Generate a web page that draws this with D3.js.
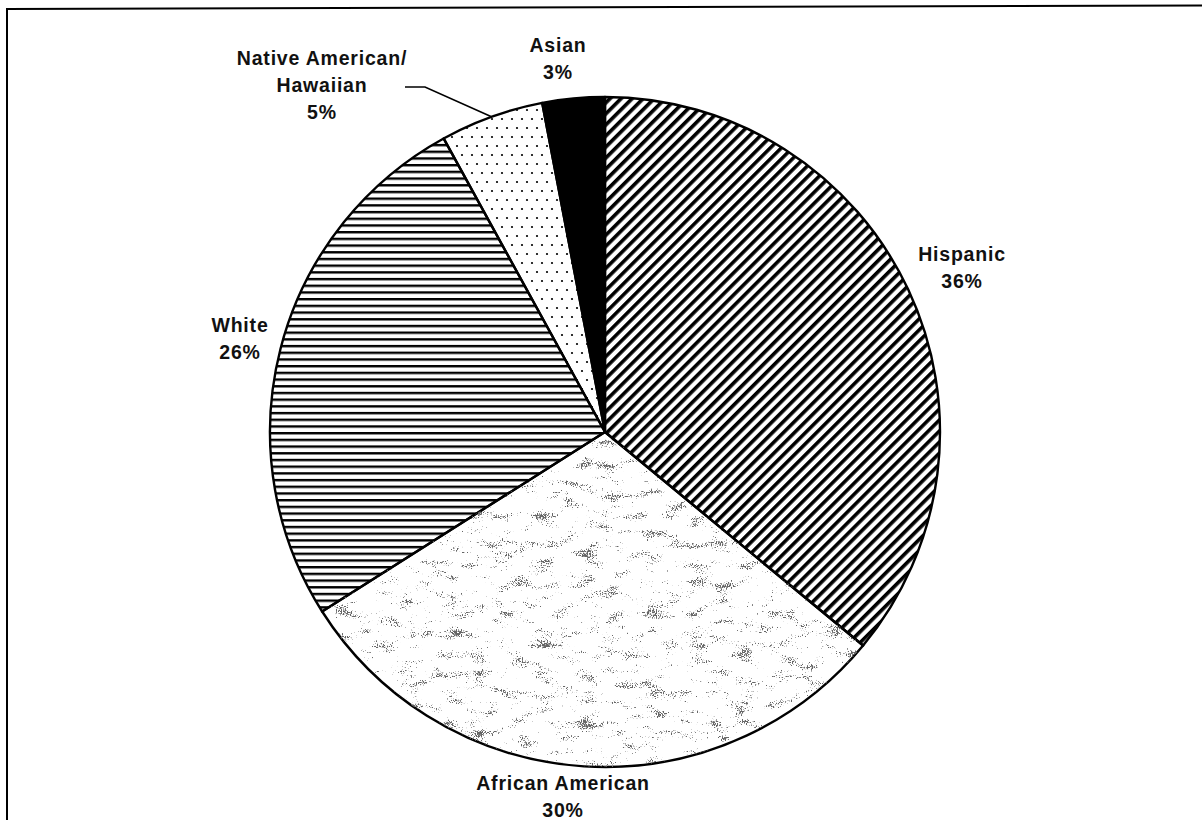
<!DOCTYPE html>
<html>
<head>
<meta charset="utf-8">
<script src="https://cdn.jsdelivr.net/npm/d3@7/dist/d3.min.js"></script>
<style>
  html, body { margin: 0; padding: 0; background: #fff; }
  svg { display: block; }
  .lbl { font-family: "Liberation Sans", Arial, sans-serif; font-weight: bold; font-size: 19.5px; letter-spacing: 0.8px; fill: #111; }
</style>
</head>
<body>
<svg id="chart" width="1202" height="820"></svg>
<script>
// Share of students by race/ethnicity
const categories = ["Hispanic", "African American", "White", "Native American/ Hawaiian", "Asian"];
const values = [36, 30, 26, 5, 3];
const labelLines = [
  ["Hispanic", "36%"],
  ["African American", "30%"],
  ["White", "26%"],
  ["Native American/", "Hawaiian", "5%"],
  ["Asian", "3%"]
];
const fills = ["url(#diag)", "#fff", "url(#horiz)", "url(#dots)", "#000"];

const W = 1202, H = 820;
const cx = 605, cy = 432, R = 335;

const svg = d3.select("#chart");
const defs = svg.append("defs");

// diagonal hatching
const diag = defs.append("pattern").attr("id", "diag").attr("patternUnits", "userSpaceOnUse")
  .attr("width", 7.8).attr("height", 7.8).attr("patternTransform", "rotate(45)");
diag.append("rect").attr("width", 7.8).attr("height", 7.8).attr("fill", "#fff");
diag.append("rect").attr("x", 0).attr("width", 3.6).attr("height", 7.8).attr("fill", "#000");

// horizontal ruling
const horiz = defs.append("pattern").attr("id", "horiz").attr("patternUnits", "userSpaceOnUse")
  .attr("width", 10).attr("height", 6.7);
horiz.append("rect").attr("width", 10).attr("height", 6.7).attr("fill", "#fff");
horiz.append("rect").attr("y", 0).attr("width", 10).attr("height", 2.4).attr("fill", "#000");

// staggered dots
const dots = defs.append("pattern").attr("id", "dots").attr("patternUnits", "userSpaceOnUse")
  .attr("width", 10).attr("height", 18);
dots.append("rect").attr("width", 10).attr("height", 18).attr("fill", "#fff");
dots.append("circle").attr("cx", 2).attr("cy", 2).attr("r", 1.1).attr("fill", "#000");
dots.append("circle").attr("cx", 7).attr("cy", 11).attr("r", 1.1).attr("fill", "#000");

// speckled fill built from thresholded noise
const f = defs.append("filter").attr("id", "speckFilter")
  .attr("filterUnits", "userSpaceOnUse")
  .attr("x", 0).attr("y", 0).attr("width", W).attr("height", H)
  .attr("color-interpolation-filters", "sRGB");
f.append("feTurbulence").attr("type", "fractalNoise").attr("baseFrequency", "0.045 0.1")
  .attr("numOctaves", 3).attr("seed", 7).attr("result", "t1");
f.append("feColorMatrix").attr("in", "t1").attr("type", "matrix")
  .attr("values", "1 0 0 0 0  1 0 0 0 0  1 0 0 0 0  0 0 0 0 1").attr("result", "n1");
f.append("feTurbulence").attr("type", "fractalNoise").attr("baseFrequency", "0.8")
  .attr("numOctaves", 1).attr("seed", 3).attr("result", "t2");
f.append("feColorMatrix").attr("in", "t2").attr("type", "matrix")
  .attr("values", "1 0 0 0 0  1 0 0 0 0  1 0 0 0 0  0 0 0 0 1").attr("result", "n2");
f.append("feComposite").attr("in", "n1").attr("in2", "n2").attr("operator", "arithmetic")
  .attr("k1", 0).attr("k2", 0.9).attr("k3", 0.9).attr("k4", -0.4).attr("result", "mix");
f.append("feColorMatrix").attr("in", "mix").attr("type", "matrix")
  .attr("values", "0 0 0 0 0.4  0 0 0 0 0.4  0 0 0 0 0.4  1 0 0 0 0").attr("result", "cm");
const ct = f.append("feComponentTransfer").attr("in", "cm");
ct.append("feFuncA").attr("type", "linear").attr("slope", 9).attr("intercept", -6.15);

const pie = d3.pie().sort(null).value(d => d).startAngle(0).endAngle(2 * Math.PI);
const arcs = pie(values);
const arc = d3.arc().innerRadius(0).outerRadius(R);

const g = svg.append("g").attr("transform", `translate(${cx},${cy})`);

// clip for the speckled slice
defs.append("clipPath").attr("id", "aaClip")
  .append("path").attr("transform", `translate(${cx},${cy})`).attr("d", arc(arcs[1]));

g.selectAll("path.slice").data(arcs).join("path")
  .attr("class", "slice")
  .attr("d", arc)
  .attr("fill", (d, i) => fills[i]);

svg.append("rect").attr("x", 0).attr("y", 0).attr("width", W).attr("height", H)
  .attr("fill", "#000").attr("filter", "url(#speckFilter)").attr("clip-path", "url(#aaClip)");

g.selectAll("path.edge").data(arcs).join("path")
  .attr("class", "edge")
  .attr("d", arc)
  .attr("fill", "none").attr("stroke", "#000").attr("stroke-width", 2.4)
  .attr("stroke-linejoin", "round");

// labels
const labelPos = [
  { x: 962, y: 261 },
  { x: 563, y: 790 },
  { x: 240, y: 332 },
  { x: 322, y: 65 },
  { x: 558, y: 52 }
];
const lineGap = 27;
labelLines.forEach((lines, i) => {
  const t = svg.append("text").attr("class", "lbl").attr("text-anchor", "middle")
    .attr("x", labelPos[i].x).attr("y", labelPos[i].y);
  lines.forEach((s, j) => {
    t.append("tspan").attr("x", labelPos[i].x).attr("y", labelPos[i].y + j * lineGap).text(s);
  });
});

// leader line for the small Native American/Hawaiian slice
const nh = arcs[3];
const midA = (nh.startAngle + nh.endAngle) / 2;
const edgePt = [cx + R * Math.sin(midA), cy - R * Math.cos(midA)];
svg.append("polyline")
  .attr("points", [[405, 87], [425, 87], edgePt].map(p => p.join(",")).join(" "))
  .attr("fill", "none").attr("stroke", "#000").attr("stroke-width", 1.6);

// frame
svg.append("line").attr("x1", 7).attr("y1", 8).attr("x2", 7).attr("y2", H)
  .attr("stroke", "#000").attr("stroke-width", 2);
svg.append("line").attr("x1", 6).attr("y1", 9).attr("x2", W).attr("y2", 5.5)
  .attr("stroke", "#000").attr("stroke-width", 2);
</script>
</body>
</html>
